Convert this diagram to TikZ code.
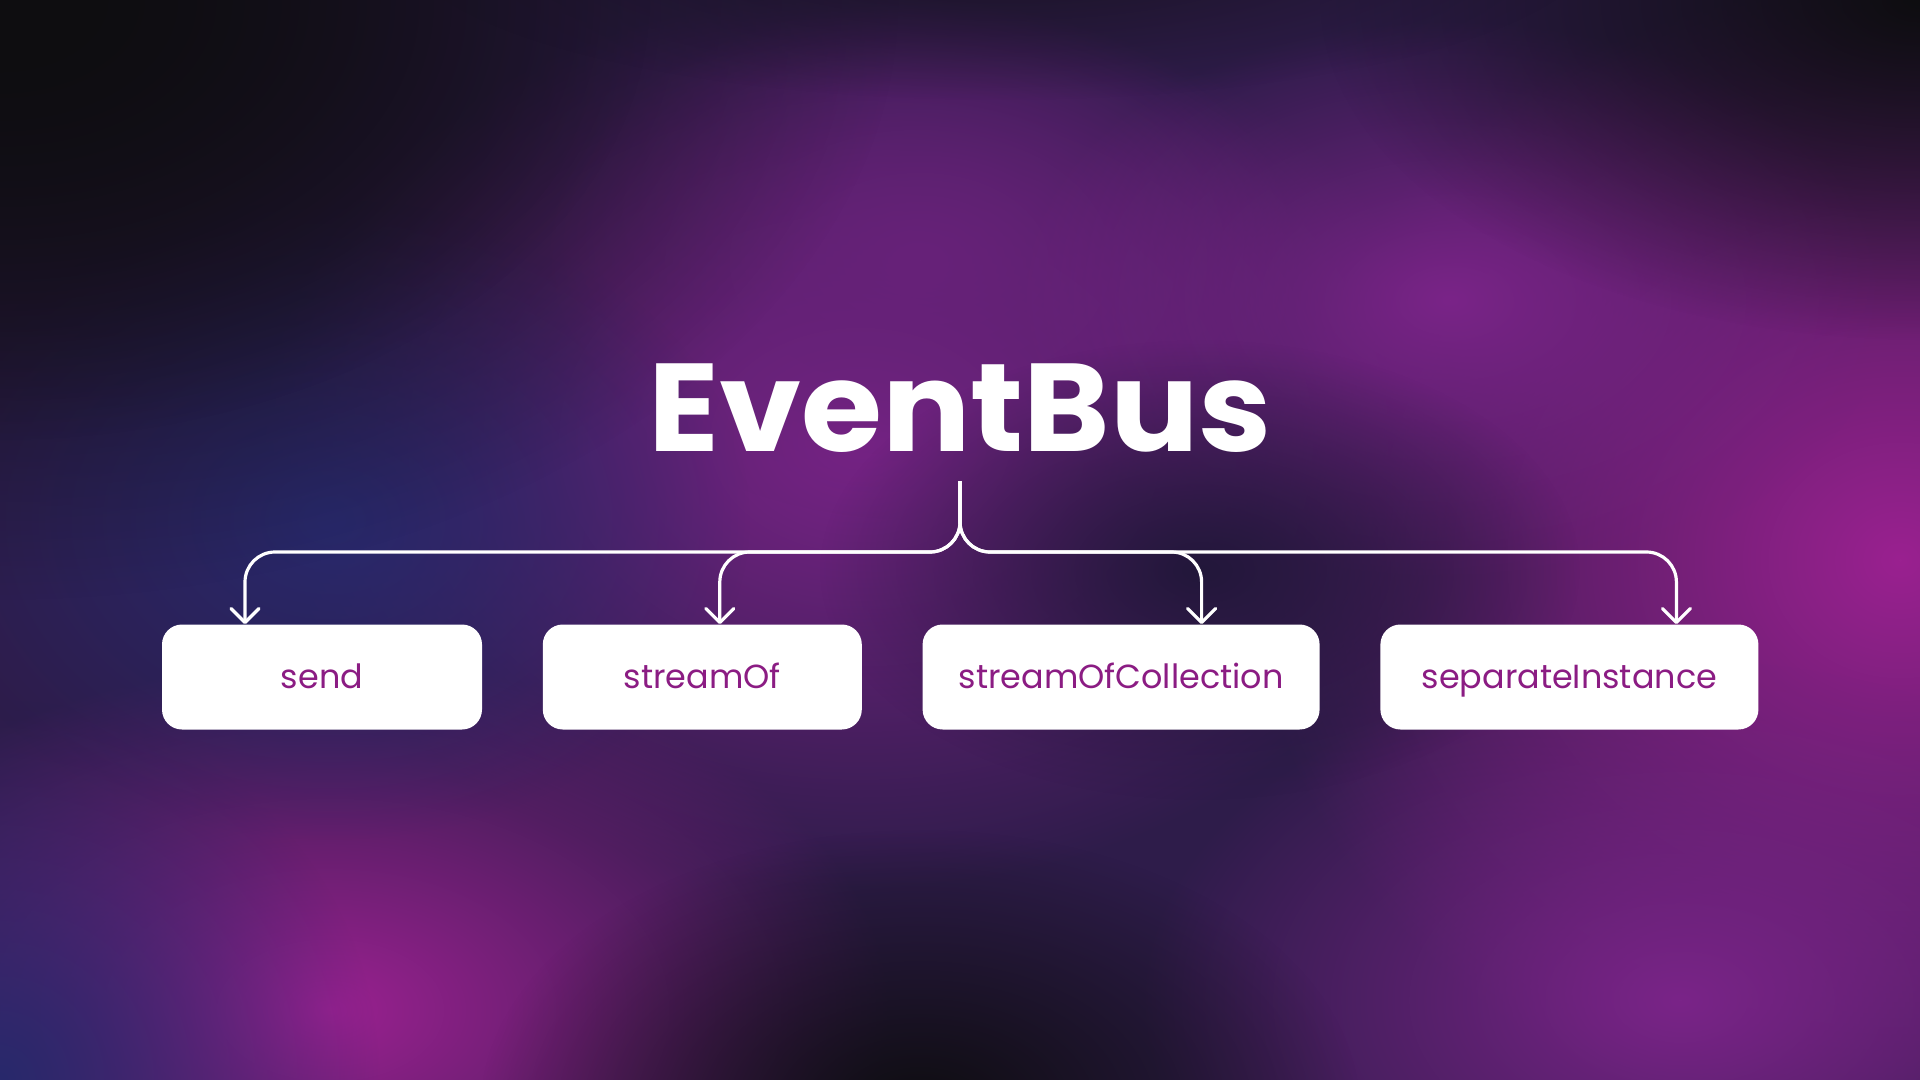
\documentclass[tikz,border=0pt]{standalone}
\usepackage{fontspec}
\setmainfont{Poppins}
\newfontfamily\headfont{Poppins}[FakeStretch=1.05]
\usetikzlibrary{arrows.meta,positioning,fadings}
\definecolor{bgbase}{HTML}{2E1C4A}
\definecolor{ink}{HTML}{0E0D10}
\definecolor{grape}{HTML}{7A2488}
\definecolor{orchid}{HTML}{9A2190}
\definecolor{indigo}{HTML}{28296C}
\definecolor{dusk}{HTML}{22173A}
\definecolor{plum}{HTML}{8B1C83}
\tikzfading[name=glow, inner color=transparent!0, outer color=transparent!100]

\begin{document}
\begin{tikzpicture}[x=0.5pt, y=-0.5pt,
  node distance=30pt,
  blob/.style={path fading=glow},
  title/.style={text=white, font=\headfont\fontsize{62.5}{70}\selectfont\bfseries, inner sep=0pt},
  method/.style={fill=white, rounded corners=10pt, inner sep=0pt,
                 minimum height=52.5pt, text height=11.7pt, text depth=0pt,
                 text=plum, font=\fontsize{16.7}{20}\selectfont},
  branch/.style={draw=white, line width=1.6pt, rounded corners=15pt,
                 -{Straight Barb[length=7pt, width=14pt, round]}}]
\useasboundingbox (0,0) rectangle (1920,1080);
% backdrop
\begin{scope}
  \clip (0,0) rectangle (1920,1080);
  \fill[bgbase] (0,0) rectangle (1920,1080);
  \fill[blob, grape] (860,440) ellipse (600 and 450);
  \fill[blob, grape!75!bgbase] (920,260) ellipse (380 and 260);
  \fill[blob, orchid] (1900,560) ellipse (650 and 580);
  \fill[blob, orchid] (330,1010) ellipse (560 and 350);
  \fill[blob, grape] (1680,1000) ellipse (540 and 340);
  \fill[blob, grape] (1450,300) ellipse (440 and 280);
  \fill[blob, indigo] (0,1080) ellipse (380 and 380);
  \fill[blob, indigo] (330,520) ellipse (420 and 320);
  \fill[blob, ink] (0,0) ellipse (900 and 600);
  \fill[blob, ink] (0,0) ellipse (650 and 440);
  \fill[blob, ink] (1920,0) ellipse (600 and 340);
  \fill[blob, ink!70!bgbase] (1000,-60) ellipse (600 and 160);
  \fill[blob, ink] (920,1110) ellipse (440 and 280);
  \fill[blob, dusk] (1200,570) ellipse (380 and 230);
\end{scope}

\node[title, anchor=base] (bus) at (960,451) {EventBus};

\node[method, minimum width=160pt] (send) at (322,677) {send};
\node[method, minimum width=159.5pt, right=of send] (streamof) {streamOf};
\node[method, minimum width=198.5pt, right=of streamof] (collection) {streamOfCollection};
\node[method, minimum width=189pt, right=of collection] (instance) {separateInstance};

\coordinate (stem) at (960,481);
\coordinate (hub) at (960,552);
\draw[branch] (stem) -- (hub) -| ([xshift=-38.5pt]send.north);
\draw[branch] (stem) -- (hub) -| ([xshift=8.75pt]streamof.north);
\draw[branch] (stem) -- (hub) -| ([xshift=40.25pt]collection.north);
\draw[branch] (stem) -- (hub) -| ([xshift=53.5pt]instance.north);
\end{tikzpicture}
\end{document}
